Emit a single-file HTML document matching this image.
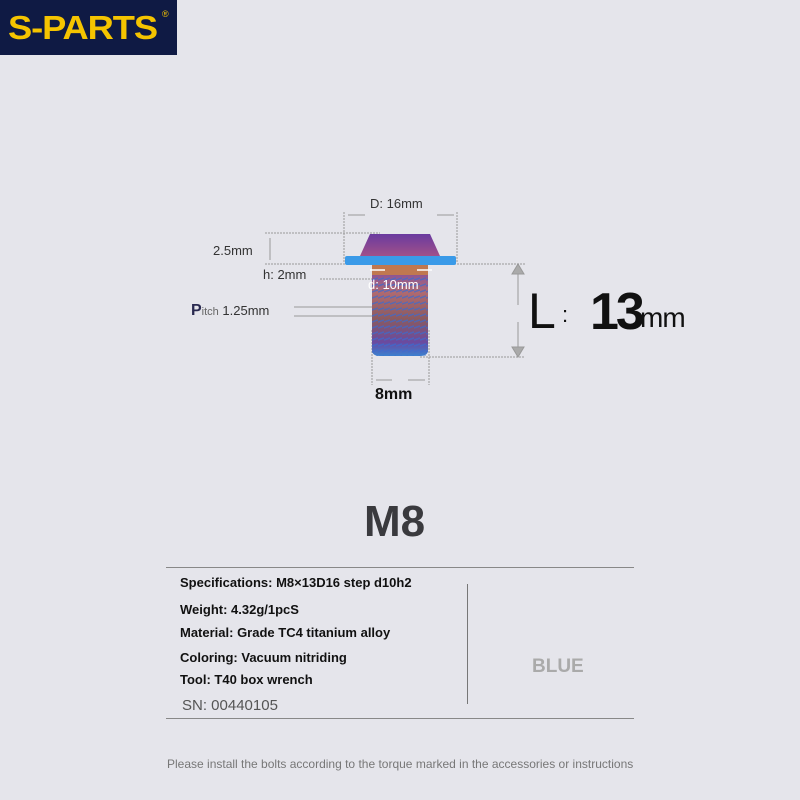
<!DOCTYPE html>
<html><head><meta charset="utf-8"><style>
body{margin:0;width:800px;height:800px;background:#e5e5eb;position:relative;overflow:hidden;font-family:"Liberation Sans",sans-serif}
.a{position:absolute;white-space:nowrap}
.b{font-weight:bold;font-size:13px;color:#111}
</style></head><body>
<div class="a" style="left:0;top:0;width:177px;height:55px;background:#0f1a44"></div>
<div class="a" style="left:8px;top:9px;font-size:33px;font-weight:bold;color:#f5c400;letter-spacing:-1px;transform:scaleX(1.1);transform-origin:0 0">S-PARTS</div>
<div class="a" style="left:162px;top:9px;font-size:9px;color:#f5c400">®</div>

<svg class="a" style="left:0;top:0" width="800" height="800">
<defs>
<linearGradient id="g" x1="0" y1="0" x2="0" y2="1">
<stop offset="0" stop-color="#7a4aa8"/><stop offset="0.3" stop-color="#b06a70"/><stop offset="0.6" stop-color="#8a5a60"/><stop offset="0.85" stop-color="#6a4aa0"/><stop offset="1" stop-color="#3a80d0"/></linearGradient>
<linearGradient id="h" x1="0" y1="0" x2="0" y2="1"><stop offset="0" stop-color="#6a3aa0"/><stop offset="1" stop-color="#a0508a"/></linearGradient>
<pattern id="t" width="6" height="6" patternUnits="userSpaceOnUse"><line x1="0" y1="4" x2="6" y2="2" stroke="#3a6ad0" stroke-width="1.5" opacity=".7"/></pattern>
</defs>
<g stroke="#999" stroke-width="1" fill="none" stroke-dasharray="2,1">
<line x1="344" y1="212" x2="344" y2="262"/><line x1="457" y1="212" x2="457" y2="262"/>
<line x1="265" y1="233" x2="380" y2="233"/><line x1="265" y1="264" x2="525" y2="264"/>
<line x1="320" y1="279" x2="380" y2="279"/>
<line x1="420" y1="357" x2="525" y2="357"/>
<line x1="372" y1="330" x2="372" y2="385"/><line x1="429" y1="330" x2="429" y2="385"/>
</g>
<g stroke="#999" stroke-width="1" fill="#aaa">
<line x1="348" y1="215" x2="365" y2="215"/><line x1="437" y1="215" x2="454" y2="215"/>
<line x1="270" y1="238" x2="270" y2="260"/>
<line x1="518" y1="270" x2="518" y2="305"/><line x1="518" y1="322" x2="518" y2="352"/>
<line x1="376" y1="380" x2="392" y2="380"/><line x1="408" y1="380" x2="425" y2="380"/>
<line x1="294" y1="307" x2="375" y2="307"/><line x1="294" y1="316" x2="375" y2="316"/>
<polygon points="512,274 524,274 518,264"/><polygon points="512,347 524,347 518,357"/>
</g>
<path d="M372 265 H428 V350 Q428 356 420 356 H380 Q372 356 372 350 Z" fill="url(#g)"/>
<rect x="372" y="265" width="56" height="91" fill="url(#t)"/>
<path d="M370 234 H430 L440 256 H360 Z" fill="url(#h)"/>
<rect x="345" y="256" width="111" height="9" rx="2" fill="#3a9ae8"/>
<rect x="372" y="265" width="56" height="10" fill="#c07850"/>
<g stroke="#fff" stroke-width="1.5" fill="#fff"><line x1="370" y1="270" x2="385" y2="270"/><line x1="417" y1="270" x2="432" y2="270"/></g>
</svg>

<div class="a" style="left:370px;top:196px;font-size:13px;color:#333">D: 16mm</div>
<div class="a" style="left:213px;top:243px;font-size:13px;color:#333">2.5mm</div>
<div class="a" style="left:263px;top:267px;font-size:13px;color:#333">h: 2mm</div>
<div class="a" style="left:368px;top:277px;font-size:13px;color:#fff">d: 10mm</div>
<div class="a" style="left:191px;top:302px;font-size:13px;color:#333"><b style="font-size:16px;color:#2a2a50">P</b><span style="font-size:11px;color:#666">itch</span> 1.25mm</div>
<div class="a" style="left:375px;top:386px;font-size:16px;font-weight:bold;color:#111">8mm</div>
<div class="a" style="left:528px;top:282px;font-size:50px;color:#111">L</div>
<div class="a" style="left:562px;top:302px;font-size:22px;color:#111">:</div>
<div class="a" style="left:590px;top:282px;font-size:52px;font-weight:bold;color:#111;letter-spacing:-3px">13</div>
<div class="a" style="left:640px;top:302px;font-size:28px;color:#111;letter-spacing:-1px">mm</div>

<div class="a" style="left:364px;top:497px;font-size:44px;font-weight:bold;color:#3a3a3e">M8</div>
<div class="a" style="left:166px;top:567px;width:468px;border-top:1px solid #888"></div>
<div class="a" style="left:166px;top:718px;width:468px;border-top:1px solid #888"></div>
<div class="a" style="left:467px;top:584px;height:120px;border-left:1px solid #777"></div>
<div class="a b" style="left:180px;top:575px">Specifications: M8×13D16 step d10h2</div>
<div class="a b" style="left:180px;top:602px">Weight: 4.32g/1pcS</div>
<div class="a b" style="left:180px;top:625px">Material: Grade TC4 titanium alloy</div>
<div class="a b" style="left:180px;top:650px">Coloring: Vacuum nitriding</div>
<div class="a b" style="left:180px;top:672px">Tool: T40 box wrench</div>
<div class="a" style="left:182px;top:697px;font-size:15px;color:#555">SN: 00440105</div>
<div class="a" style="left:532px;top:656px;font-size:19px;font-weight:bold;color:#aaa">BLUE</div>
<div class="a" style="left:167px;top:757px;font-size:12px;color:#777">Please install the bolts according to the torque marked in the accessories or instructions</div>
</body></html>
